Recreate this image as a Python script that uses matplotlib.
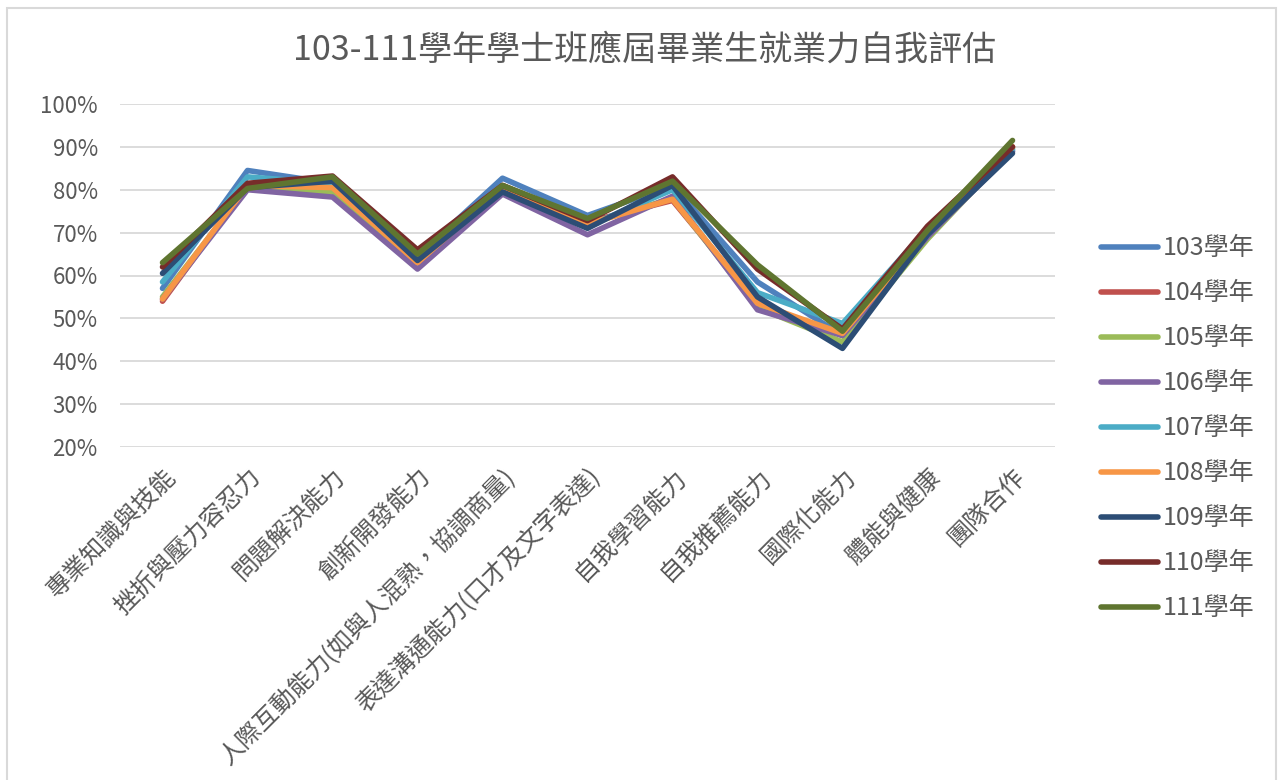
import matplotlib
matplotlib.use('Agg')
import matplotlib.pyplot as plt
from matplotlib.patches import Rectangle

plt.rcParams['font.family'] = ['Noto Sans CJK TC', 'DejaVu Sans']

# 類別與各學年資料 (%)
categories = ['專業知識與技能', '挫折與壓力容忍力', '問題解決能力', '創新開發能力',
              '人際互動能力(如與人混熟，協調商量)', '表達溝通能力(口才及文字表達)',
              '自我學習能力', '自我推薦能力', '國際化能力', '體能與健康', '團隊合作']

years = ['103學年', '104學年', '105學年', '106學年', '107學年',
         '108學年', '109學年', '110學年', '111學年']

y103 = [57.0, 84.5, 81.5, 64.5, 82.7, 74.0, 81.0, 58.5, 46.0, 70.0, 89.0]
y104 = [54.0, 81.0, 81.0, 65.5, 81.0, 72.5, 77.5, 53.5, 46.0, 70.0, 90.0]
y105 = [55.0, 80.5, 79.5, 63.0, 80.0, 72.0, 78.0, 52.5, 44.5, 68.5, 89.5]
y106 = [54.5, 80.0, 78.3, 61.5, 79.0, 69.5, 78.5, 52.0, 46.0, 69.0, 89.0]
y107 = [58.5, 83.0, 81.5, 63.5, 80.0, 71.5, 80.0, 56.0, 48.8, 71.0, 89.5]
y108 = [54.5, 81.0, 80.5, 63.0, 80.5, 72.0, 77.8, 53.5, 46.5, 70.0, 90.0]
y109 = [60.5, 80.5, 82.0, 63.5, 79.5, 71.0, 81.0, 55.0, 43.0, 69.5, 88.5]
y110 = [62.0, 81.5, 83.2, 66.0, 81.0, 72.8, 83.0, 61.5, 47.5, 71.5, 90.0]
y111 = [63.0, 80.3, 83.0, 65.0, 81.0, 73.3, 82.0, 62.5, 47.0, 70.5, 91.5]

series = [y103, y104, y105, y106, y107, y108, y109, y110, y111]
colors = ['#4F81BD', '#C0504D', '#9BBB59', '#8064A2', '#4BACC6',
          '#F79646', '#2C4D75', '#772C2A', '#5F7530']

fig = plt.figure(figsize=(12.81, 7.8), dpi=100)
# 外框
fig.patches.append(Rectangle((7 / 1281, -0.01), 1 - 12 / 1281, 1 - 8 / 780 + 0.01,
                             transform=fig.transFigure, fill=False,
                             edgecolor='#D9D9D9', linewidth=1.5))

ax = fig.add_axes([120 / 1281, 1 - 447 / 780, (1055 - 120) / 1281, (447 - 104) / 780])
x = list(range(len(categories)))
for vals, name, c in zip(series, years, colors):
    ax.plot(x, vals, color=c, linewidth=4, label=name, solid_capstyle='round',
            solid_joinstyle='round')

ax.set_xlim(-0.5, len(categories) - 0.5)
ax.set_ylim(20, 100)
ax.set_yticks(range(20, 101, 10))
ax.set_yticklabels([f'{v}%' for v in range(20, 101, 10)])
ax.grid(axis='y', color='#D9D9D9', linewidth=1.3)
ax.set_axisbelow(True)
for s in ax.spines.values():
    s.set_visible(False)
ax.tick_params(axis='both', length=0, colors='#595959', labelsize=16)
ax.tick_params(axis='y', pad=16)
ax.set_xticks(x)
ax.set_xticklabels(categories, rotation=45, ha='right', va='top',
                   rotation_mode='anchor', fontsize=17.6, color='#595959')
ax.tick_params(axis='x', pad=12)

fig.text(645 / 1281, 1 - 50 / 780, '103-111學年學士班應屆畢業生就業力自我評估',
         ha='center', va='center', fontsize=24.5, color='#595959')

leg = ax.legend(loc='upper left', bbox_to_anchor=(1078 / 1281, 1 - 213 / 780),
                bbox_transform=fig.transFigure, frameon=False, fontsize=18,
                handlelength=2.3, handletextpad=0.2, labelspacing=0.76)
for t in leg.get_texts():
    t.set_color('#595959')

fig.savefig('out.png', dpi=100, facecolor='white')
